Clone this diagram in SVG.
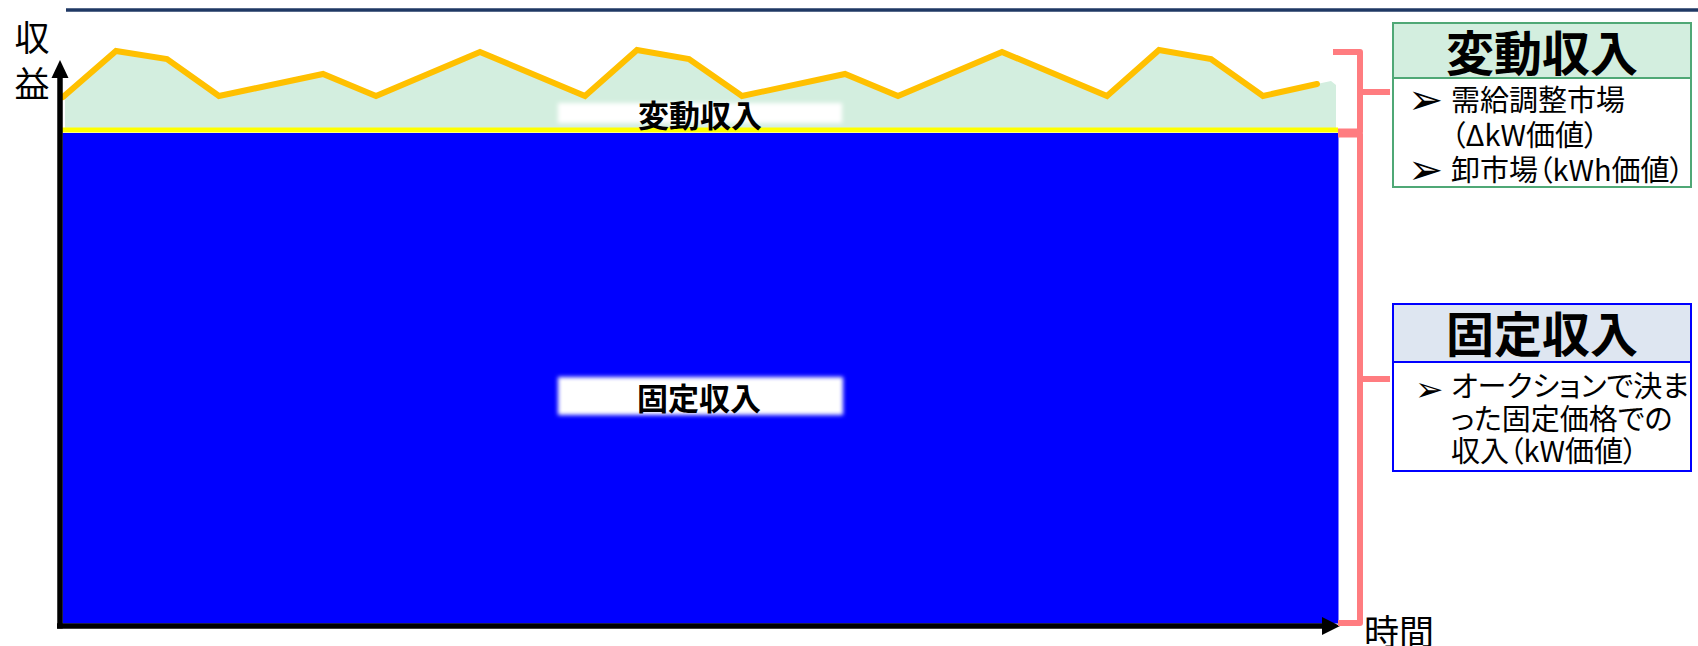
<svg xmlns="http://www.w3.org/2000/svg" width="1698" height="646" viewBox="0 0 1698 646">
<style>
.jp{font-family:"Noto Sans CJK JP","Noto Sans CJK SC",sans-serif;fill:#000}
.b{font-weight:bold}
.body{font-size:29px;font-feature-settings:"palt"}
.bul{font-family:"DejaVu Sans",sans-serif;fill:#000}
.br{fill:none;stroke:#FF7C80;stroke-width:6;stroke-linejoin:round}
.ax{stroke:#000;stroke-width:5.5;fill:none}
</style>
<defs>
<filter id="soft" x="-10%" y="-30%" width="120%" height="160%"><feGaussianBlur stdDeviation="2"/></filter>
</defs>
<rect width="1698" height="646" fill="#fff"/>
<line x1="66" y1="10" x2="1698" y2="10" stroke="#1F3864" stroke-width="3.5"/>

<g id="chart">
<polygon points="65,98 116,51 167,59 219,96 323,74 376,96 480,52 585,96 637,50 689,59 742,96 845,74 898,96 1002,52 1107,96 1159,50 1211,59 1263,96 1317,84 1331,81 1336,85 1336,130 65,130" fill="#D3EEDF"/>
<rect x="62.5" y="133" width="1276" height="490.5" fill="#0000FF"/>
<line x1="62" y1="130" x2="1338" y2="130" stroke="#FFFF00" stroke-width="5"/>
<polyline points="63,97 116,51 167,59 219,96 323,74 376,96 480,52 585,96 637,50 689,59 742,96 845,74 898,96 1002,52 1107,96 1159,50 1211,59 1263,96 1317,84" fill="none" stroke="#FFC000" stroke-width="6" stroke-linecap="round"/>
</g>

<g id="label-variable">
<rect x="558" y="103" width="284" height="20" fill="#fff" filter="url(#soft)"/>
<text class="jp b" x="700" y="127" font-size="31" text-anchor="middle">変動収入</text>
</g>
<g id="label-fixed">
<rect x="558" y="377" width="285" height="38" fill="#fff" filter="url(#soft)"/>
<text class="jp b" x="699" y="410" font-size="31" text-anchor="middle">固定収入</text>
</g>

<g id="axes">
<line class="ax" x1="60" y1="76" x2="60" y2="628.5"/>
<polygon points="60,60 51.5,78 68.5,78" fill="#000"/>
<line class="ax" x1="57" y1="626" x2="1324" y2="626"/>
<polygon points="1340,626 1322,617 1322,635" fill="#000"/>
<text class="jp" x="32" y="51" font-size="35" text-anchor="middle">収</text>
<text class="jp" x="32" y="97" font-size="35" text-anchor="middle">益</text>
<text class="jp" x="1364" y="645" font-size="35">時間</text>
</g>

<g id="connectors">
<path class="br" d="M1333,52 H1360 V131.5 H1338"/>
<path class="br" d="M1360,92 H1390"/>
<path class="br" d="M1338,134.5 H1360 V623 H1338"/>
<path class="br" d="M1360,379 H1390"/>
</g>

<g id="box-variable">
<rect x="1393" y="23" width="298" height="164" fill="#fff" stroke="#4FA876" stroke-width="2"/>
<rect x="1393" y="23" width="298" height="55" fill="#D3EEDF" stroke="#4FA876" stroke-width="2"/>
<text class="jp b" x="1542" y="71" font-size="48" text-anchor="middle">変動収入</text>
<text class="bul" x="1408" y="114" font-size="42">➢</text>
<text class="jp body" x="1451" y="111">需給調整市場</text>
<text class="jp body" x="1451" y="146">（ΔkW価値）</text>
<text class="bul" x="1408" y="184" font-size="42">➢</text>
<text class="jp body" x="1451" y="181">卸市場（kWh価値）</text>
</g>

<g id="box-fixed">
<rect x="1393" y="304" width="298" height="167" fill="#fff" stroke="#0000FF" stroke-width="2"/>
<rect x="1393" y="304" width="298" height="58" fill="#DEE6F1" stroke="#0000FF" stroke-width="2"/>
<text class="jp b" x="1542" y="352" font-size="48" text-anchor="middle">固定収入</text>
<text class="bul" x="1415" y="401" font-size="34">➢</text>
<text class="jp body" x="1451" y="397">オークションで決ま</text>
<text class="jp body" x="1451" y="430">った固定価格での</text>
<text class="jp body" x="1451" y="462">収入（kW価値）</text>
</g>
</svg>
